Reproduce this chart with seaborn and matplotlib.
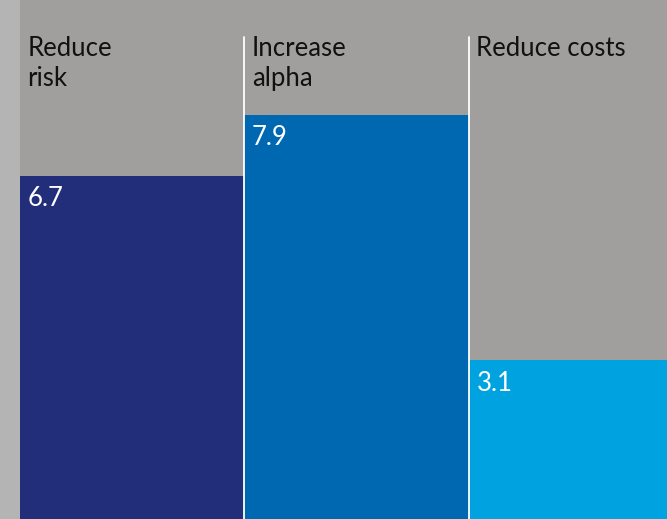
import matplotlib
matplotlib.use('Agg')
import matplotlib.pyplot as plt
import seaborn as sns
import pandas as pd

# Data
categories = ['Reduce\nrisk', 'Increase\nalpha', 'Reduce costs']
values = [6.7, 7.9, 3.1]
bar_colors = ['#232e7a', '#0068b1', '#00a3e0']

sns.set_style('white')
plt.rcParams['font.family'] = ['Lato', 'DejaVu Sans']

df = pd.DataFrame({'category': categories, 'value': values})

fig = plt.figure(figsize=(6.67, 5.19), dpi=100)
fig.patch.set_facecolor('#b4b4b4')

# plot area starts after the light strip on the left
ax = fig.add_axes([20 / 667, 0, 647 / 667, 1])
ax.set_facecolor('#a09f9d')

sns.barplot(data=df, x='category', y='value', hue='category', palette=bar_colors,
            width=1.0, saturation=1, legend=False, edgecolor='none', linewidth=0, ax=ax)

ax.set_xlim(-0.5, 2.382)
ax.set_ylim(0, 10.14)

# thin white separators between columns
for xpos in [0.5, 1.5]:
    ax.axvline(xpos, ymin=0, ymax=(519 - 37) / 519, color='white', linewidth=1.3)

# category headers and value labels
for i, (cat, val) in enumerate(zip(categories, values)):
    ax.text(i - 0.467, 9.43, cat, color='#111111', fontsize=18.5,
            ha='left', va='top', linespacing=1.22)
    ax.text(i - 0.467, val - 0.2, f'{val:.1f}', color='white', fontsize=18.5,
            ha='left', va='top')

ax.set_xticks([])
ax.set_yticks([])
ax.set_xlabel('')
ax.set_ylabel('')
sns.despine(ax=ax, left=True, bottom=True)

fig.savefig('out.png', dpi=100, facecolor=fig.get_facecolor())
